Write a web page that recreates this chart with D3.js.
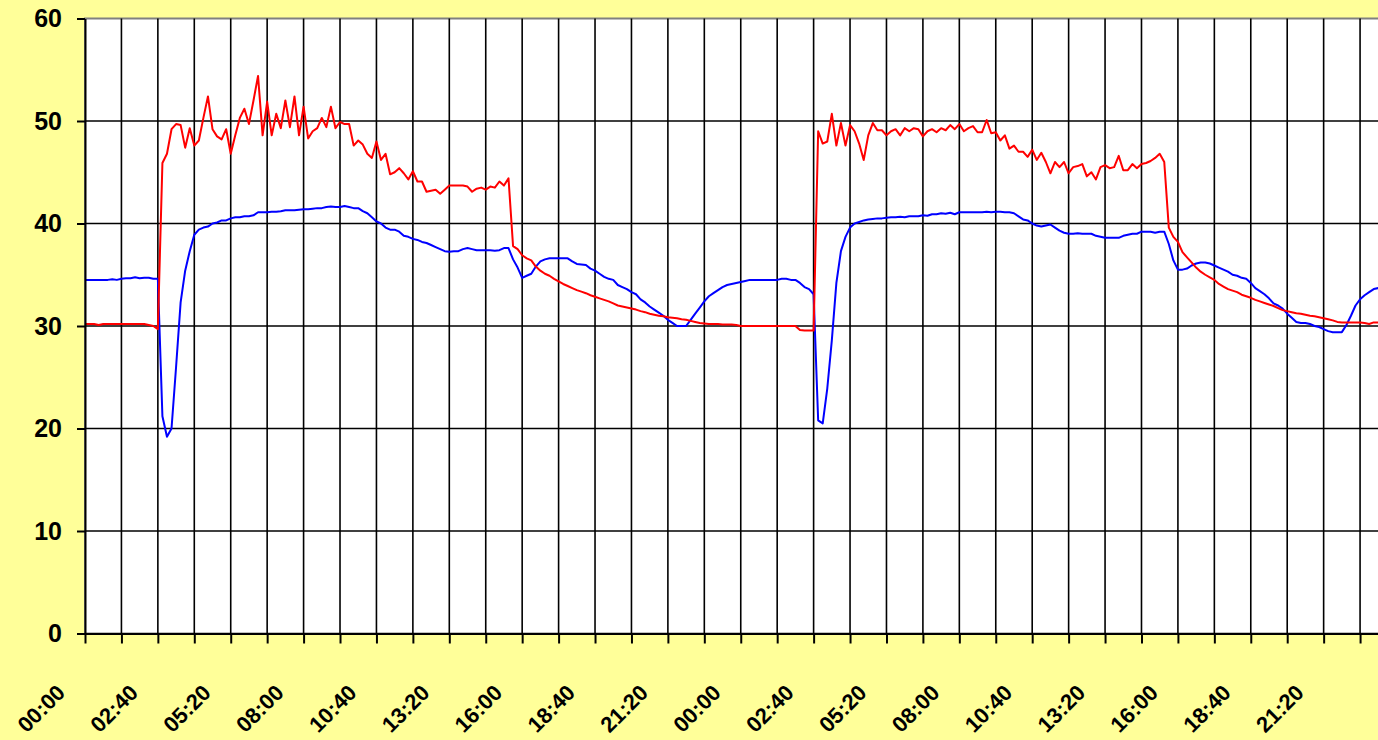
<!DOCTYPE html>
<html>
<head>
<meta charset="utf-8">
<script src="https://cdn.jsdelivr.net/npm/d3@7"></script>
<style>
  body { margin: 0; background: #ffff99; overflow: hidden; }
  .axis text { font-family: 'Liberation Sans', Arial, sans-serif; font-weight: bold; fill: #000; }
  .axis line, .axis path { stroke: #000; stroke-width: 2; }
</style>
</head>
<body>
<svg class="svg-chart"></svg>
<script>
// labels every 2h40 (16 samples of 10 min), two days
var timeLabels = ['00:00', '02:40', '05:20', '08:00', '10:40', '13:20', '16:00', '18:40', '21:20',
  '00:00', '02:40', '05:20', '08:00', '10:40', '13:20', '16:00', '18:40', '21:20'];
var yTicks = [0, 10, 20, 30, 40, 50, 60];

// 10 minute samples
var redSeries = [
  30.2, 30.2, 30.2, 30.1, 30.2, 30.2, 30.2, 30.2, 30.2, 30.2, 30.2, 30.2, 30.2, 30.2, 30.1, 30.0,
  29.7, 45.9, 46.8, 49.2, 49.7, 49.6, 47.4, 49.3, 47.6, 48.1, 50.3, 52.4, 49.2, 48.5, 48.2, 49.2,
  46.8, 48.6, 50.3, 51.2, 49.7, 52.0, 54.4, 48.6, 51.9, 48.6, 50.7, 49.3, 52.0, 49.4, 52.4, 48.6,
  51.4, 48.3, 49.0, 49.3, 50.3, 49.4, 51.4, 49.3, 49.9, 49.7, 49.7, 47.6, 48.1, 47.7, 46.8, 46.4,
  48.0, 46.2, 46.8, 44.8, 45.0, 45.4, 44.9, 44.3, 45.1, 44.1, 44.1, 43.1, 43.2, 43.3, 42.9, 43.3,
  43.7, 43.7, 43.7, 43.7, 43.6, 43.1, 43.4, 43.5, 43.3, 43.6, 43.5, 44.1, 43.7, 44.4, 37.8, 37.5,
  36.9, 36.6, 36.4, 35.8, 35.4, 35.1, 34.9, 34.6, 34.35, 34.1, 33.9, 33.7, 33.5, 33.35, 33.2, 33.0,
  32.85, 32.7, 32.55, 32.4, 32.2, 32.0, 31.9, 31.8, 31.7, 31.6, 31.45, 31.35, 31.2, 31.1, 31.0, 30.95,
  30.85, 30.8, 30.75, 30.65, 30.6, 30.5, 30.4, 30.3, 30.25, 30.2, 30.2, 30.2, 30.15, 30.15, 30.15, 30.1,
  30.0, 30.0, 30.0, 30.0, 30.0, 30.0, 30.0, 30.0, 30.0, 30.0, 30.0, 30.0, 30.0, 29.6, 29.55, 29.55,
  29.55, 49.0, 47.8, 48.0, 50.7, 47.6, 49.8, 47.6, 49.6, 49.0, 47.8, 46.2, 48.6, 49.8, 49.1, 49.1,
  48.6, 49.0, 49.2, 48.6, 49.3, 49.0, 49.3, 49.2, 48.5, 49.0, 49.2, 48.9, 49.3, 49.1, 49.6, 49.2,
  49.7, 49.0, 49.3, 49.5, 48.9, 48.9, 50.1, 48.8, 48.9, 48.1, 48.6, 47.3, 47.6, 47.0, 47.0, 46.5,
  47.2, 46.2, 46.9, 46.0, 44.9, 46.0, 45.5, 46.0, 44.9, 45.5, 45.6, 45.8, 44.6, 45.0, 44.3, 45.5,
  45.7, 45.4, 45.5, 46.6, 45.2, 45.2, 45.8, 45.4, 45.8, 45.9, 46.1, 46.4, 46.8, 46.0, 39.6, 38.7,
  38.2, 37.2, 36.7, 36.2, 35.7, 35.3, 35.0, 34.75, 34.5, 34.1, 33.85, 33.6, 33.45, 33.3, 33.05, 32.9,
  32.75, 32.55, 32.4, 32.25, 32.1, 31.95, 31.75, 31.55, 31.45, 31.35, 31.25, 31.2, 31.1, 31.0, 30.95, 30.85,
  30.75, 30.65, 30.55, 30.4, 30.35, 30.35, 30.35, 30.35, 30.35, 30.3, 30.2, 30.35, 30.35, 30.35
];
var blueSeries = [
  34.5, 34.5, 34.5, 34.5, 34.5, 34.5, 34.55, 34.5, 34.6, 34.65, 34.65, 34.75, 34.65, 34.7, 34.7, 34.6,
  34.6, 21.2, 19.2, 20.0, 26.0, 32.3, 35.4, 37.3, 38.9, 39.4, 39.6, 39.7, 40.0, 40.1, 40.3, 40.3,
  40.5, 40.6, 40.6, 40.7, 40.7, 40.8, 41.1, 41.1, 41.1, 41.15, 41.15, 41.2, 41.3, 41.3, 41.3, 41.35,
  41.4, 41.4, 41.45, 41.5, 41.5, 41.6, 41.65, 41.6, 41.6, 41.7, 41.6, 41.5, 41.5, 41.2, 41.0, 40.6,
  40.2, 40.0, 39.6, 39.4, 39.4, 39.2, 38.8, 38.7, 38.5, 38.4, 38.2, 38.1, 37.9, 37.7, 37.5, 37.3,
  37.25, 37.3, 37.3, 37.5, 37.6, 37.5, 37.4, 37.4, 37.4, 37.4, 37.35, 37.4, 37.6, 37.6, 36.5, 35.7,
  34.7, 34.9, 35.1, 35.8, 36.3, 36.5, 36.6, 36.6, 36.6, 36.6, 36.6, 36.3, 36.05, 36.0, 35.95, 35.6,
  35.4, 35.1, 34.8, 34.6, 34.5, 34.0, 33.8, 33.6, 33.3, 33.1, 32.6, 32.3, 31.9, 31.6, 31.3, 31.0,
  30.6, 30.3, 30.0, 30.0, 30.0, 30.6, 31.2, 31.8, 32.4, 32.9, 33.2, 33.5, 33.8, 34.0, 34.1, 34.2,
  34.3, 34.4, 34.5, 34.5, 34.5, 34.5, 34.5, 34.5, 34.5, 34.6, 34.6, 34.5, 34.5, 34.2, 33.8, 33.6,
  33.1, 20.8, 20.5, 23.9, 28.6, 34.2, 37.3, 38.7, 39.6, 40.0, 40.15, 40.3, 40.4, 40.45, 40.5, 40.5,
  40.55, 40.6, 40.6, 40.65, 40.6, 40.7, 40.7, 40.7, 40.8, 40.75, 40.9, 40.9, 41.0, 40.95, 41.05, 40.9,
  41.1, 41.1, 41.1, 41.1, 41.1, 41.1, 41.15, 41.1, 41.15, 41.15, 41.1, 41.1, 41.0, 40.7, 40.4, 40.3,
  40.0, 39.8, 39.7, 39.8, 39.9, 39.6, 39.3, 39.1, 39.0, 39.0, 39.05, 39.0, 39.0, 39.0, 38.8, 38.7,
  38.6, 38.6, 38.6, 38.6, 38.8, 38.9, 39.0, 39.0, 39.2, 39.2, 39.2, 39.1, 39.2, 39.2, 38.0, 36.4,
  35.5, 35.5, 35.6, 35.9, 36.1, 36.2, 36.2, 36.1, 35.9, 35.7, 35.5, 35.3, 35.0, 34.9, 34.7, 34.6,
  34.2, 33.7, 33.4, 33.1, 32.7, 32.2, 32.0, 31.7, 31.2, 30.8, 30.4, 30.3, 30.3, 30.2, 30.0, 29.9,
  29.7, 29.5, 29.4, 29.4, 29.4, 30.1, 31.0, 32.0, 32.6, 33.0, 33.3, 33.6, 33.7, 33.9
];

var svgWidth = 1378;
var svgHeight = 740;
var borders = {
  left: 85,
  right: 1396.5,
  top: 18.5,
  bottom: 633.5
};
var totalSteps = 288;
var stepsPerGrid = 8;
var stepsPerLabel = 16;

var svg = d3.select('.svg-chart')
  .attr('width', svgWidth)
  .attr('height', svgHeight);

var xScale = d3.scaleLinear()
  .domain([0, totalSteps])
  .range([borders.left, borders.right]);

var yScale = d3.scaleLinear()
  .domain([0, 60])
  .range([borders.bottom, borders.top]);

// plot area
svg.append('rect')
  .attr('x', borders.left)
  .attr('y', borders.top)
  .attr('width', borders.right - borders.left)
  .attr('height', borders.bottom - borders.top)
  .attr('fill', '#ffffff')
  .attr('stroke', '#808080')
  .attr('stroke-width', 2);

var gridSteps = d3.range(0, totalSteps + 1, stepsPerGrid);

// vertical grid
svg.append('g')
  .selectAll('line')
  .data(gridSteps.slice(1))
  .enter()
  .append('line')
  .attr('x1', function (d) { return xScale(d); })
  .attr('x2', function (d) { return xScale(d); })
  .attr('y1', borders.top)
  .attr('y2', borders.bottom)
  .attr('stroke', '#000')
  .attr('stroke-width', 1.6);

// horizontal grid
svg.append('g')
  .selectAll('line')
  .data(yTicks.slice(1, -1))
  .enter()
  .append('line')
  .attr('x1', borders.left)
  .attr('x2', borders.right)
  .attr('y1', function (d) { return yScale(d); })
  .attr('y2', function (d) { return yScale(d); })
  .attr('stroke', '#000')
  .attr('stroke-width', 1.6);

// series
var line = d3.line()
  .x(function (d, i) { return xScale(i); })
  .y(function (d) { return yScale(d); });

svg.append('path')
  .datum(blueSeries)
  .attr('d', line)
  .attr('fill', 'none')
  .attr('stroke', '#0000ff')
  .attr('stroke-width', 2)
  .attr('stroke-linejoin', 'round');

svg.append('path')
  .datum(redSeries)
  .attr('d', line)
  .attr('fill', 'none')
  .attr('stroke', '#ff0000')
  .attr('stroke-width', 2)
  .attr('stroke-linejoin', 'round');

// axes
var yAxis = d3.axisLeft(yScale)
  .tickValues(yTicks)
  .tickSize(8)
  .tickSizeOuter(0)
  .tickPadding(15);

svg.append('g')
  .attr('class', 'axis')
  .attr('transform', 'translate(' + borders.left + ',0)')
  .call(yAxis)
  .selectAll('text')
  .style('font-size', '25px');

var xAxis = d3.axisBottom(xScale)
  .tickValues(gridSteps)
  .tickSize(10)
  .tickSizeOuter(0)
  .tickFormat(function (d) {
    return d % stepsPerLabel === 0 ? timeLabels[d / stepsPerLabel] : '';
  });

svg.append('g')
  .attr('class', 'axis')
  .attr('transform', 'translate(0,' + borders.bottom + ')')
  .call(xAxis)
  .selectAll('text')
  .style('font-size', '22px')
  .attr('x', 0)
  .attr('y', 0)
  .attr('dy', 0)
  .style('text-anchor', 'end')
  .attr('transform', 'translate(-19,60.5) rotate(-45)');
</script>
</body>
</html>
